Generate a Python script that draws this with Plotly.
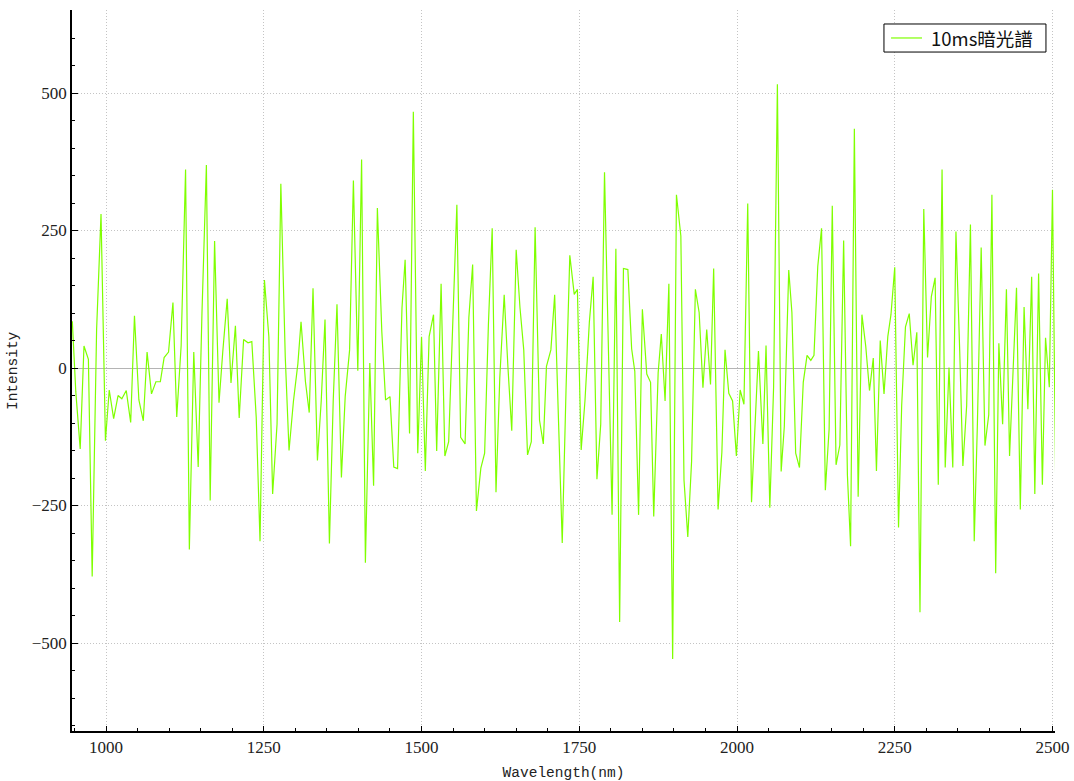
import plotly.graph_objects as go

wavelength_nm = [
    946.5, 952, 959, 965, 972, 978, 985, 992, 999, 1005,
    1012, 1019, 1025, 1032, 1039, 1045, 1052, 1059, 1065, 1072,
    1079, 1086, 1092, 1099, 1106, 1112, 1119, 1126, 1132, 1139,
    1146, 1152, 1159, 1165, 1172, 1179, 1185, 1192, 1198, 1205,
    1211, 1218, 1225, 1231, 1238, 1244, 1251, 1258, 1264, 1271,
    1277, 1284, 1290, 1297, 1304, 1309, 1316, 1322, 1328, 1335,
    1341, 1347, 1354, 1360, 1366, 1373, 1379, 1386, 1392, 1399,
    1405, 1411, 1418, 1424, 1430, 1437, 1443, 1450, 1456, 1462,
    1469, 1474, 1481, 1487, 1494, 1500, 1506, 1512, 1519, 1524,
    1531, 1537, 1543, 1550, 1556, 1562, 1569, 1575, 1581, 1587,
    1594, 1600, 1606, 1612, 1618, 1624, 1631, 1637, 1643, 1650,
    1656, 1662, 1668, 1674, 1680, 1687, 1693, 1698, 1705, 1711,
    1717, 1723, 1729, 1735, 1742, 1747, 1753, 1759, 1766, 1772,
    1778, 1784, 1790, 1797, 1802, 1808, 1814, 1820, 1827, 1833,
    1838, 1844, 1850, 1857, 1863, 1868, 1875, 1880, 1886, 1892,
    1898, 1904, 1911, 1916, 1922, 1928, 1934, 1940, 1946, 1952,
    1958, 1963, 1970, 1976, 1981, 1987, 1993, 1999, 2005, 2011,
    2017, 2023, 2029, 2034, 2041, 2046, 2052, 2058, 2064, 2070,
    2075, 2082, 2087, 2093, 2099, 2105, 2111, 2117, 2122, 2128,
    2134, 2140, 2146, 2151, 2157, 2163, 2169, 2175, 2180, 2186,
    2192, 2198, 2204, 2210, 2216, 2221, 2227, 2233, 2239, 2244,
    2250, 2256, 2261, 2267, 2273, 2279, 2285, 2290, 2296, 2302,
    2308, 2314, 2319, 2325, 2330, 2336, 2342, 2347, 2353, 2358,
    2364, 2370, 2376, 2381, 2387, 2393, 2399, 2404, 2410, 2415,
    2421, 2427, 2432, 2438, 2443, 2449, 2455, 2461, 2467, 2472,
    2478, 2484, 2489, 2495, 2500, 2506,
]

intensity = [
    85, -43, -147, 40, 16, -379, 70, 280, -132, -40,
    -92, -50, -56, -41, -99, 95, -58, -96, 29, -47,
    -25, -25, 19, 29, 119, -89, 41, 361, -330, 29,
    -180, 100, 369, -241, 231, -63, 30, 126, -27, 77,
    -91, 52, 46, 48, -90, -315, 160, 57, -229, -102,
    335, 20, -150, -60, 8, 84, -25, -81, 145, -168,
    -60, 88, -319, -60, 116, -199, -52, 33, 341, -5,
    379, -354, 9, -214, 291, 67, -58, -52, -180, -183,
    109, 197, -119, 466, -155, 57, -187, 57, 97, -151,
    153, -160, -134, 90, 297, -126, -138, 92, 188, -260,
    -182, -155, 80, 254, -226, -18, 133, 0, -114, 215,
    110, 33, -158, -134, 256, -95, -138, 3, 33, 133,
    -80, -318, -40, 205, 134, 143, -149, -60, 84, 166,
    -202, -102, 356, -35, -267, 217, -462, 181, 179, 35,
    -6, -267, 107, -11, -26, -270, -9, 62, -60, 153,
    -529, 315, 240, -204, -307, -170, 143, 101, -36, 70,
    -30, 181, -257, -153, 33, -46, -60, -160, -40, -66,
    299, -244, -102, 31, -138, 41, -254, -35, 516, -188,
    -106, 178, 101, -155, -181, -26, 23, 14, 23, 185,
    254, -222, -111, 295, -176, -140, 232, -195, -324, 435,
    -234, 97, 40, -41, 18, -187, 50, -47, 57, 97,
    183, -290, -68, 75, 99, 5, 65, -444, 289, 19,
    130, 164, -212, 361, -181, 1, -181, 248, 30, -178,
    -68, 261, -315, -102, 219, -141, -85, 315, -373, 45,
    -102, 143, -160, 0, 146, -257, 111, -75, 166, -229,
    172, -212, 55, -35, 324, -300,
]

x_tick_values = [1000, 1250, 1500, 1750, 2000, 2250, 2500]
y_tick_values = [-500, -250, 0, 250, 500]

series_name = "10ms暗光譜"
x_title = "Wavelength(nm)"
y_title = "Intensity"

LINE_COLOR = "#7FFF00"
tick_font = dict(family="Liberation Serif, DejaVu Serif, serif", size=17, color="#222222")
title_font = dict(family="Liberation Mono, DejaVu Sans Mono, monospace", size=14.5, color="#222222")
legend_font = dict(family="Noto Sans CJK TC, Noto Sans CJK SC, sans-serif", size=18.5, color="#111111")

fig = go.Figure()
fig.add_trace(go.Scatter(
    x=wavelength_nm,
    y=intensity,
    mode="lines",
    name=series_name,
    line=dict(color=LINE_COLOR, width=1.2),
    showlegend=False,
))

# legend box drawn in paper coordinates (box, sample line, label)
fig.add_shape(type="rect", xref="paper", yref="paper",
              x0=0.826, x1=0.9908, y0=0.9417, y1=0.9806,
              line=dict(color="black", width=1), fillcolor="white", layer="above")
fig.add_shape(type="line", xref="paper", yref="paper",
              x0=0.8332, x1=0.8647, y0=0.9612, y1=0.9612,
              line=dict(color=LINE_COLOR, width=1.2), layer="above")
fig.add_annotation(xref="paper", yref="paper", x=0.8718, y=0.9612,
                   xanchor="left", yanchor="middle", text=series_name,
                   showarrow=False, font=legend_font)

# y-axis title
fig.add_annotation(xref="paper", yref="paper", x=-0.0605, y=0.5,
                   xanchor="center", yanchor="middle", text=y_title,
                   textangle=-90, showarrow=False, font=title_font)

fig.update_layout(
    width=1074,
    height=781,
    margin=dict(l=72, r=19, t=10, b=50, autoexpand=False),
    paper_bgcolor="white",
    plot_bgcolor="white",
    showlegend=False,
    xaxis=dict(
        range=[946, 2504],
        tickmode="array",
        tickvals=x_tick_values,
        ticks="inside",
        ticklen=5,
        tickcolor="black",
        showline=True,
        linecolor="black",
        linewidth=1.5,
        showgrid=True,
        gridcolor="#c4c4c4",
        griddash="1px,2px",
        gridwidth=1,
        zeroline=False,
        tickfont=tick_font,
        title=dict(text=x_title, font=title_font),
        minor=dict(ticks="inside", ticklen=3, dtick=50, tick0=1000, tickcolor="black", showgrid=False),
        automargin=False,
    ),
    yaxis=dict(
        range=[-660, 651],
        tickmode="array",
        tickvals=y_tick_values,
        ticks="inside",
        ticklen=6,
        tickcolor="black",
        showline=True,
        linecolor="black",
        linewidth=1.5,
        showgrid=True,
        gridcolor="#c4c4c4",
        griddash="1px,2px",
        gridwidth=1,
        zeroline=True,
        zerolinecolor="#b4b4b4",
        zerolinewidth=1,
        tickfont=tick_font,
        minor=dict(ticks="inside", ticklen=3, dtick=50, tick0=0, tickcolor="black", showgrid=False),
        automargin=False,
    ),
)

fig.write_html(
    "out.html",
    config={"displayModeBar": False},
    post_script="document.body.style.margin='0';document.body.style.overflow='hidden';",
)
